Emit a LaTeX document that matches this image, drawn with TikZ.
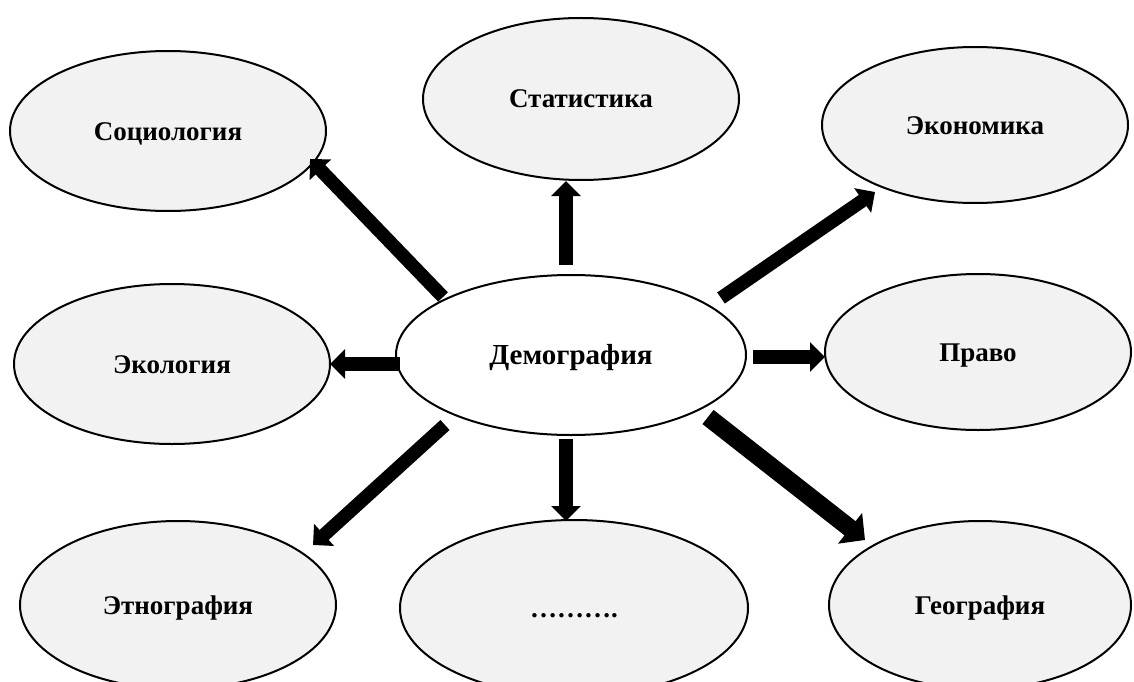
\documentclass[tikz,border=0pt]{standalone}
\usepackage{fontspec}
\setmainfont{Liberation Serif}
\usetikzlibrary{arrows.meta,shapes.geometric}
\definecolor{bubfill}{HTML}{F2F2F2}
\begin{document}
\begin{tikzpicture}[x=1pt,y=-1pt,
  bub/.style={ellipse, draw=black, line width=2pt, fill=bubfill, inner sep=0pt, outer sep=0pt,
    text height=18pt, text depth=0pt, font=\fontsize{27}{31}\selectfont\bfseries},
  arr/.style={line width=13.5pt, -{Triangle[length=15pt,width=29pt]}},
  bigarr/.style={line width=18pt, -{Triangle[length=19pt,width=38pt]}}]
\useasboundingbox (0,0) rectangle (1134,682);
\clip (0,0) rectangle (1134,682);
\fill[white] (0,0) rectangle (1134,682);
\node[bub, minimum width=316pt, minimum height=160pt] (soc)  at (168,131) {Социология};
\node[bub, minimum width=316pt, minimum height=162pt] (stat) at (581,99)  {Статистика};
\node[bub, minimum width=306pt, minimum height=156pt] (econ) at (975,125) {Экономика};
\node[bub, minimum width=316pt, minimum height=160pt] (ecol) at (172,364) {Экология};
\node[bub, fill=white, minimum width=350pt, minimum height=160pt, text height=19pt,
      font=\fontsize{29}{33}\selectfont\bfseries] (dem) at (571,355) {Демография};
\node[bub, minimum width=306pt, minimum height=156pt] (prav) at (978,352) {Право};
\node[bub, minimum width=316pt, minimum height=168pt] (etno) at (178,605) {Этнография};
\node[bub, minimum width=348pt, minimum height=176pt] (dots) at (574,608) {……….};
\node[bub, minimum width=302pt, minimum height=168pt] (geo)  at (980,605) {География};
\draw[arr] ([shift={(-128,-58)}]dem.center) -- ([shift={(142,28)}]soc.center);
\draw[arr] ([shift={(-5,-90)}]dem.center) -- ([shift={(-15,82)}]stat.center);
\draw[arr] ([shift={(150,-57)}]dem.center) -- ([shift={(-100,67)}]econ.center);
\draw[arr] ([shift={(-171,9)}]dem.center) -- ([shift={(158,0)}]ecol.center);
\draw[arr] ([shift={(182,2)}]dem.center) -- ([shift={(-153,5)}]prav.center);
\draw[arr] ([shift={(-126,70)}]dem.center) -- ([shift={(135,-60)}]etno.center);
\draw[arr] ([shift={(-5,84)}]dem.center) -- ([shift={(-8,-87)}]dots.center);
\draw[bigarr] ([shift={(137,62)}]dem.center) -- ([shift={(-115,-65)}]geo.center);
\end{tikzpicture}
\end{document}
